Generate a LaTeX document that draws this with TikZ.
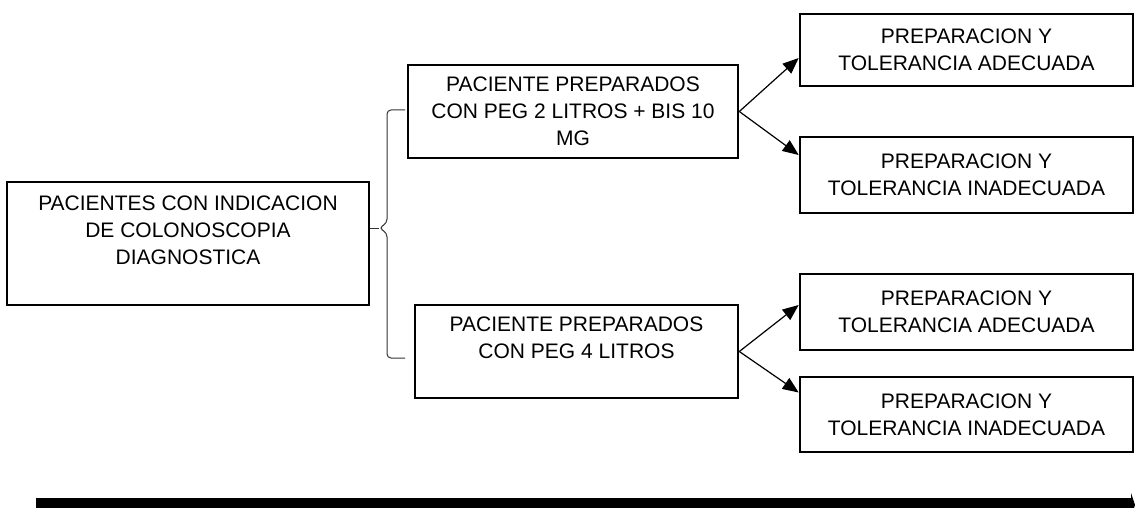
\documentclass[tikz,border=0pt]{standalone}
\usepackage{fontspec}
\setmainfont{Liberation Sans}
\usetikzlibrary{arrows.meta}

\tikzset{
    caja/.style={draw, line width=2.6pt, inner sep=0pt, align=center,
        font=\fontsize{21}{27}\selectfont},
    flecha/.style={line width=1.2pt, -{Triangle[length=16pt,width=13pt]}},
    llave/.style={draw=black!80, line width=1pt, rounded corners=4pt}
}

\begin{document}
\begin{tikzpicture}[x=1pt,y=-1pt]

    \clip (0,0) rectangle (1135,508);

    \node[caja,
        minimum width=362pt,
        minimum height=123pt
    ] (pacientes) at (188,243.5){PACIENTES CON INDICACION\\DE COLONOSCOPIA\\DIAGNOSTICA\\ \mbox{}};

    \node[caja,
        minimum width=330pt,
        minimum height=93pt
    ] (pegdos) at (573,111.5){PACIENTE PREPARADOS\\CON PEG 2 LITROS + BIS 10\\MG};
    \node[caja,
        minimum width=323pt,
        minimum height=93pt
    ] (pegcuatro) at (576.5,351.5){PACIENTE PREPARADOS\\CON PEG 4 LITROS\\ \mbox{}};

    \node[caja, minimum width=333pt, minimum height=72pt] (adecA) at (966.5,50)
        {PREPARACION Y\\TOLERANCIA ADECUADA};
    \node[caja, minimum width=333pt, minimum height=76pt] (inadecA) at (966.5,175)
        {PREPARACION Y\\TOLERANCIA INADECUADA};
    \node[caja, minimum width=333pt, minimum height=76pt] (adecB) at (966.5,312)
        {PREPARACION Y\\TOLERANCIA ADECUADA};
    \node[caja, minimum width=333pt, minimum height=75pt] (inadecB) at (966.5,414.5)
        {PREPARACION Y\\TOLERANCIA INADECUADA};

    % llave
    \coordinate (llaveA) at (405,110);
    \coordinate (llaveB) at (405,358);
    \coordinate (punta) at (379,228);
    \draw[llave] (llaveA) -- (387,110) -- (387,223) -- (punta) -- (387,233)
        -- (387,358) -- (llaveB);
    \draw[llave] (pacientes.east |- punta) -- (punta);

    \draw[flecha] (pegdos.east) -- ([yshift=-8pt]adecA.west);
    \draw[flecha] (pegdos.east) -- ([yshift=20pt]inadecA.west);
    \draw[flecha] (pegcuatro.east) -- ([yshift=7pt]adecB.west);
    \draw[flecha] (pegcuatro.east) -- ([yshift=22pt]inadecB.west);

    % eje inferior
    \coordinate (ejeA) at (36,505);
    \coordinate (ejeB) at (1135,505);
    \draw[line width=15pt, -{Triangle[length=4pt,width=24pt]}] (ejeA) -- (ejeB);

\end{tikzpicture}
\end{document}
